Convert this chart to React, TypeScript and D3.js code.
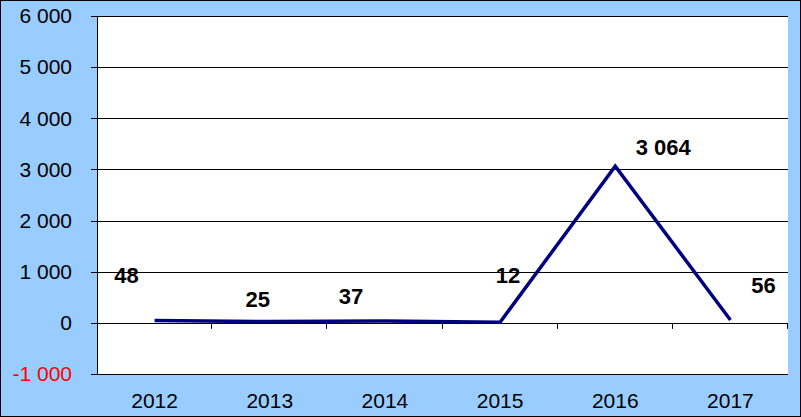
import React from "react";
import * as d3 from "d3";

const years = ["2012", "2013", "2014", "2015", "2016", "2017"];
const values = [48, 25, 37, 12, 3064, 56];
const yTicks = [-1000, 0, 1000, 2000, 3000, 4000, 5000, 6000];
// label offsets (dx, dy) relative to each point
const labelDx = [-28, -12, -34, 8, 48, 33];
const labelDy = [-37, -15, -17, -39, -11, -27];

const W = 801;
const H = 417;
const M = { left: 97, right: 788, top: 16, bottom: 374 };

const fmt = (v: number) => {
  const s = d3.format(",")(Math.abs(v)).replace(/,/g, " ");
  return (v < 0 ? "-" : "") + s;
};

export default function App() {
  const x = d3.scaleBand<string>().domain(years).range([M.left, M.right]);
  const y = d3.scaleLinear().domain([-1000, 6000]).range([M.bottom, M.top]);
  const line = d3
    .line<number>()
    .x((_, i) => (x(years[i]) as number) + x.bandwidth() / 2)
    .y((d) => y(d));
  const y0 = y(0);
  const font = "Arial, 'Liberation Sans', sans-serif";

  return (
    <div style={{ position: "fixed", left: 0, top: 0 }}>
      <svg width={W} height={H} style={{ display: "block" }}>
        <rect x={0.5} y={0.5} width={W - 1} height={H - 1} fill="#99CCFF" stroke="#000" strokeWidth={1} />
        <rect x={M.left} y={M.top} width={M.right - M.left} height={M.bottom - M.top} fill="#fff" />
        {yTicks.map((t) => (
          <g key={t}>
            <line x1={M.left - 6} x2={M.right} y1={Math.round(y(t)) + 0.5} y2={Math.round(y(t)) + 0.5} stroke="#000" strokeWidth={1} />
            <text
              x={72}
              y={y(t)}
              dy="0.35em"
              textAnchor="end"
              fontFamily={font}
              fontSize={21}
              fill={t < 0 ? "#FF0000" : "#000"}
            >
              {fmt(t)}
            </text>
          </g>
        ))}
        <line x1={M.left + 0.5} x2={M.left + 0.5} y1={M.top} y2={M.bottom} stroke="#000" strokeWidth={1} />
        {years.map((yr) => (
          <line
            key={"t" + yr}
            x1={Math.round((x(yr) as number) + x.bandwidth()) - 0.5}
            x2={Math.round((x(yr) as number) + x.bandwidth()) - 0.5}
            y1={y0}
            y2={y0 + 6}
            stroke="#000"
            strokeWidth={1}
          />
        ))}
        {years.map((yr) => (
          <text
            key={"c" + yr}
            x={(x(yr) as number) + x.bandwidth() / 2}
            y={408}
            textAnchor="middle"
            fontFamily={font}
            fontSize={21}
            fill="#000"
          >
            {yr}
          </text>
        ))}
        <path d={line(values) || ""} fill="none" stroke="#000080" strokeWidth={3.5} strokeLinejoin="miter" />
        {values.map((v, i) => (
          <text
            key={"l" + i}
            x={(x(years[i]) as number) + x.bandwidth() / 2 + labelDx[i]}
            y={y(v) + labelDy[i]}
            textAnchor="middle"
            fontFamily={font}
            fontSize={22}
            fontWeight="bold"
            fill="#000"
          >
            {fmt(v)}
          </text>
        ))}
      </svg>
    </div>
  );
}
